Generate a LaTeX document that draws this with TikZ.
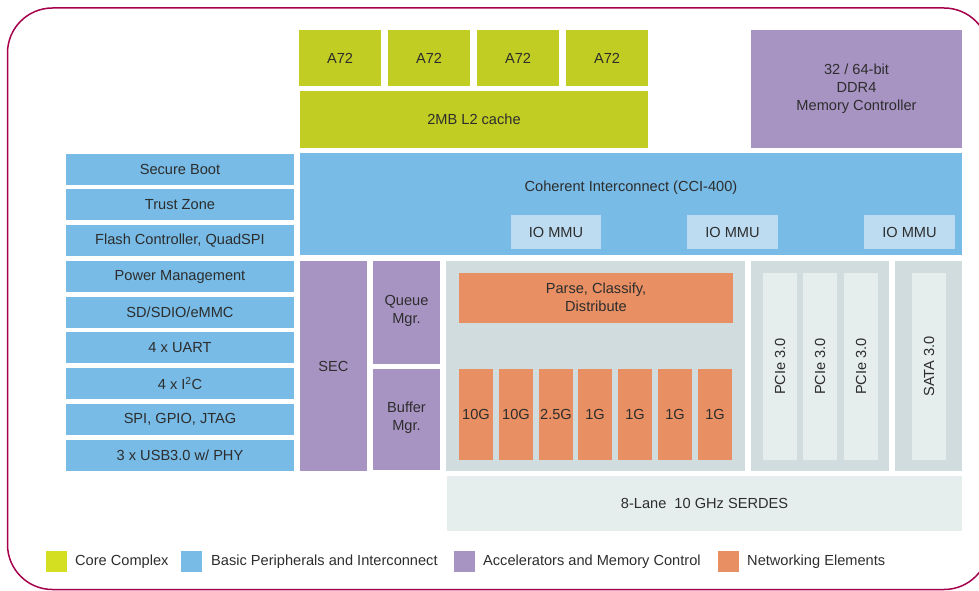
\documentclass[tikz,border=0pt]{standalone}
\usepackage{fontspec}
\setmainfont{Liberation Sans}

\definecolor{corecol}{RGB}{193,205,35}
\definecolor{corelegend}{RGB}{212,223,34}
\definecolor{periphcol}{RGB}{119,187,230}
\definecolor{accelcol}{RGB}{168,148,195}
\definecolor{netcol}{RGB}{232,144,99}
\definecolor{iommucol}{RGB}{189,220,241}
\definecolor{laneback}{RGB}{208,220,221}
\definecolor{lanecol}{RGB}{230,237,237}
\definecolor{framecol}{RGB}{165,0,75}
\definecolor{labelcol}{RGB}{45,45,45}

\begin{document}
\begin{tikzpicture}[x=1pt, y=-1pt,
	lbl/.style={text=labelcol, font=\fontsize{14.6}{17.5}\selectfont, align=center, inner sep=0pt}]

	\useasboundingbox (0,0) rectangle (979,591);

	%outer frame (runs off the right edge)
	\draw[framecol, line width=1.5pt, rounded corners=45pt] (7.5,8) rectangle (989,589.5);

	%core complex (green)
	\fill[corecol] (299,30) rectangle (381,86);
	\node[lbl] (a72a) at (340,58) {A72};
	\fill[corecol] (388,30) rectangle (470,86);
	\node[lbl] (a72b) at (429,58) {A72};
	\fill[corecol] (477,30) rectangle (559,86);
	\node[lbl] (a72c) at (518,58) {A72};
	\fill[corecol] (566,30) rectangle (648,86);
	\node[lbl] (a72d) at (607,58) {A72};
	\fill[corecol] (300,91) rectangle (648,148);
	\node[lbl] (ltwo) at (474,119.5) {2MB L2 cache};

	%memory controller (purple)
	\fill[accelcol] (751,30) rectangle (962,148);
	\node[lbl, font=\fontsize{14.6}{18}\selectfont] (ddr) at (856.5,89) {32 / 64-bit\\DDR4\\Memory Controller};

	%basic peripherals, left column (blue)
	\fill[periphcol] (66,154) rectangle (294,185);
	\node[lbl] (boot) at (180,169.5) {Secure Boot};
	\fill[periphcol] (66,189) rectangle (294,220);
	\node[lbl] (trust) at (180,204.5) {Trust Zone};
	\fill[periphcol] (66,225) rectangle (294,256);
	\node[lbl] (flash) at (180,240.5) {Flash Controller, QuadSPI};
	\fill[periphcol] (66,261) rectangle (294,292);
	\node[lbl] (power) at (180,276.5) {Power Management};
	\fill[periphcol] (66,297) rectangle (294,328);
	\node[lbl] (sdio) at (180,312.5) {SD/SDIO/eMMC};
	\fill[periphcol] (66,332) rectangle (294,363);
	\node[lbl] (uart) at (180,347.5) {4 x UART};
	\fill[periphcol] (66,368) rectangle (294,399);
	\node[lbl] (iic) at (180,383.5) {4 x I\textsuperscript{2}C};
	\fill[periphcol] (66,404) rectangle (294,435);
	\node[lbl] (spi) at (180,419.5) {SPI, GPIO, JTAG};
	\fill[periphcol] (66,440) rectangle (294,471);
	\node[lbl] (usb) at (180,455.5) {3 x USB3.0 w/ PHY};

	%coherent interconnect with the IO MMUs
	\fill[periphcol] (300,153) rectangle (962,255);
	\node[lbl] (cci) at (631,188) {Coherent Interconnect (CCI-400)};
	\fill[iommucol] (511,215) rectangle (601,249);
	\node[lbl] (mmua) at (556,232) {IO MMU};
	\fill[iommucol] (687,215) rectangle (778,249);
	\node[lbl] (mmub) at (732.5,232) {IO MMU};
	\fill[iommucol] (864,215) rectangle (955,249);
	\node[lbl] (mmuc) at (909.5,232) {IO MMU};

	%accelerators (purple)
	\fill[accelcol] (300,261) rectangle (367,471);
	\node[lbl] (sec) at (333.5,366) {SEC};
	\fill[accelcol] (373,261) rectangle (440,364);
	\node[lbl] (queue) at (406.5,311) {Queue\\Mgr.};
	\fill[accelcol] (373,369) rectangle (440,470);
	\node[lbl] (buffer) at (406.5,417.5) {Buffer\\Mgr.};

	%networking elements (orange on grey)
	\fill[laneback] (446,261) rectangle (745,471);
	\fill[netcol] (459,273) rectangle (733,323);
	\node[lbl] (parse) at (596,297.5) {Parse, Classify,\\Distribute};
	\fill[netcol] (459,369) rectangle (493,460);
	\node[lbl] (mac1) at (476,414) {10G};
	\fill[netcol] (499,369) rectangle (533,460);
	\node[lbl] (mac2) at (516,414) {10G};
	\fill[netcol] (539,369) rectangle (573,460);
	\node[lbl] (mac3) at (556,414) {2.5G};
	\fill[netcol] (578,369) rectangle (612,460);
	\node[lbl] (mac4) at (595,414) {1G};
	\fill[netcol] (618,369) rectangle (652,460);
	\node[lbl] (mac5) at (635,414) {1G};
	\fill[netcol] (658,369) rectangle (692,460);
	\node[lbl] (mac6) at (675,414) {1G};
	\fill[netcol] (698,369) rectangle (732,460);
	\node[lbl] (mac7) at (715,414) {1G};

	%PCIe and SATA lanes (grey)
	\fill[laneback] (751,261) rectangle (889,471);
	\fill[lanecol] (763,273) rectangle (797,460);
	\node[lbl, rotate=90] (pcia) at (780,366.5) {PCIe 3.0};
	\fill[lanecol] (803,273) rectangle (837,460);
	\node[lbl, rotate=90] (pcib) at (820,366.5) {PCIe 3.0};
	\fill[lanecol] (844,273) rectangle (878,460);
	\node[lbl, rotate=90] (pcic) at (861,366.5) {PCIe 3.0};
	\fill[laneback] (895,261) rectangle (962,471);
	\fill[lanecol] (912,273) rectangle (946,460);
	\node[lbl, rotate=90] (sata) at (929,366.5) {SATA 3.0};

	%serdes
	\fill[lanecol] (447,476) rectangle (962,531);
	\node[lbl] (serdes) at (704.5,503.5) {8-Lane\ \ 10 GHz SERDES};

	%legend
	\fill[corelegend] (46,551) rectangle (67,572);
	\node[lbl, anchor=west] (legcore) at (75,561.5) {Core Complex};
	\fill[periphcol] (181,551) rectangle (202,572);
	\node[lbl, anchor=west] (legperiph) at (211,561.5) {Basic Peripherals and Interconnect};
	\fill[accelcol] (454,551) rectangle (475,572);
	\node[lbl, anchor=west] (legaccel) at (483,561.5) {Accelerators and Memory Control};
	\fill[netcol] (718,551) rectangle (739,572);
	\node[lbl, anchor=west] (legnet) at (747,561.5) {Networking Elements};
\end{tikzpicture}
\end{document}
